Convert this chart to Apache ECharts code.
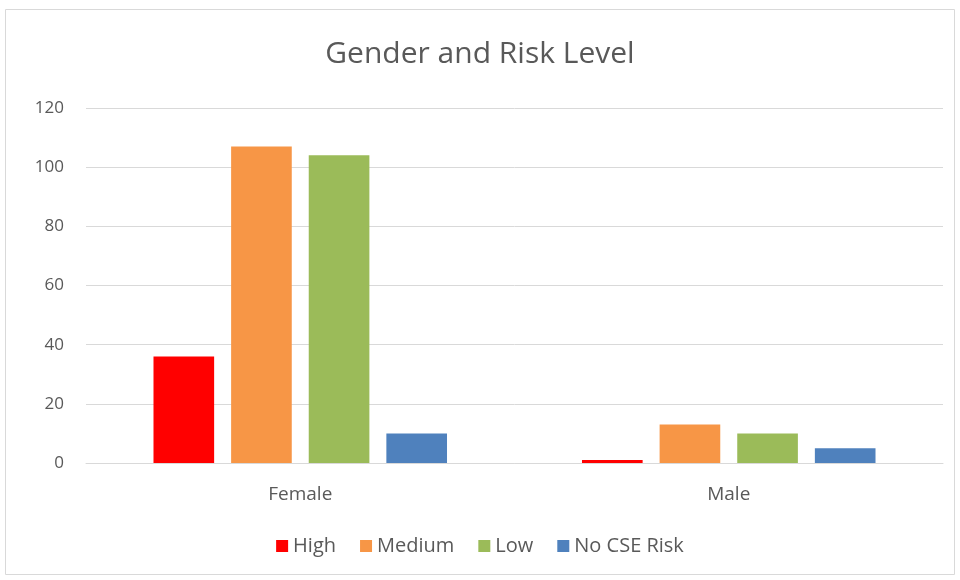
<!DOCTYPE html>
<html><head><meta charset="utf-8">
<script src="https://cdn.jsdelivr.net/npm/echarts@6/dist/echarts.min.js"></script>
<style>html,body{margin:0;padding:0;background:#fff}#c{width:960px;height:580px}</style>
</head><body><div id="c"></div>
<script>
const categories = ['Female', 'Male'];
const high = [36, 1];
const medium = [107, 13];
const low = [104, 10];
const noRisk = [10, 5];
const yTicks = [0, 20, 40, 60, 80, 100, 120];

const chart = echarts.init(document.getElementById('c'));
const font = '"Open Sans", "Liberation Sans", sans-serif';
function s(name, data, color) {
  return {name, type: 'bar', data, barGap: '28%', barCategoryGap: '31.5%',
    itemStyle: {color}, emphasis: {disabled: true}};
}
chart.setOption({
  animation: false,
  graphic: [{type: 'rect', shape: {x: 5.5, y: 9.5, width: 949, height: 565},
    style: {fill: 'none', stroke: '#d9d9d9', lineWidth: 1}, silent: true}],
  title: {text: 'Gender and Risk Level', left: 'center', top: 34,
    textStyle: {fontFamily: font, fontSize: 30, fontWeight: 'normal', color: '#595959'}},
  legend: {bottom: 19, left: 'center', itemWidth: 12, itemHeight: 12, itemGap: 24,
    icon: 'rect', textStyle: {fontFamily: font, fontSize: 20, color: '#595959'},
    data: ['High', 'Medium', 'Low', 'No CSE Risk']},
  grid: {left: 86, right: 17, top: 108, bottom: 117, containLabel: false},
  xAxis: {type: 'category', data: categories,
    axisLine: {lineStyle: {color: '#d9d9d9', width: 1}}, axisTick: {show: false},
    axisLabel: {fontFamily: font, fontSize: 19, color: '#595959', margin: 22}},
  yAxis: {type: 'value', min: yTicks[0], max: yTicks[yTicks.length - 1], interval: 20,
    axisLine: {show: false}, axisTick: {show: false},
    splitLine: {lineStyle: {color: '#d9d9d9', width: 1}},
    axisLabel: {fontFamily: font, fontSize: 17, color: '#595959', margin: 22}},
  series: [s('High', high, '#ff0000'), s('Medium', medium, '#f79646'),
    s('Low', low, '#9bbb59'), s('No CSE Risk', noRisk, '#4f81bd')]
});
</script></body></html>
